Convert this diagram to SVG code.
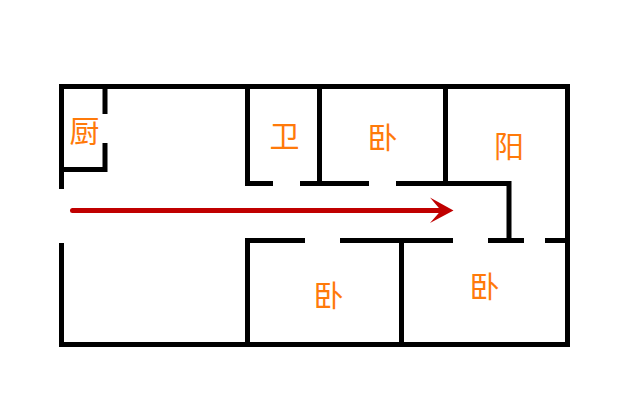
<svg xmlns="http://www.w3.org/2000/svg" width="640" height="420" viewBox="0 0 640 420">
<style>
.w{fill:none;stroke:#000;stroke-width:5;stroke-linecap:butt;stroke-linejoin:miter}
.t{font-family:"Noto Sans CJK SC","Noto Sans",sans-serif;font-size:30px;font-weight:400;fill:#ff7a0a;text-anchor:middle}
</style>
<rect width="640" height="420" fill="#fff"/>
<g id="walls" class="w">
<path d="M61.500 189V86.500H567.500V344.500H61.500V243"/>
<path d="M105 86.500V114M105 143V169.500H61.500"/>
<path d="M247.500 86.500V183.500H273M300 183.500H369M396 183.500H511.500M509 183.500V240.500"/>
<path d="M319.500 86.500V183.500M445.500 86.500V183.500"/>
<path d="M305 240.500H245M247.500 238V344.500"/>
<path d="M340 240.500H453M401.500 240.500V344.500M488 240.500H524M545 240.500H565"/>
</g>
<g id="route">
<path d="M72.500 210.500H445" fill="none" stroke="#c00000" stroke-width="5" stroke-linecap="round"/>
<path d="M430 197.500L453.500 210.500L430 223L441 210.500Z" fill="#c00000"/>
</g>
<g id="labels">
<text class="t" x="84.500" y="142">厨</text>
<text class="t" x="284.500" y="147">卫</text>
<text class="t" x="382.500" y="148">卧</text>
<text class="t" x="509" y="157">阳</text>
<text class="t" x="328.500" y="306">卧</text>
<text class="t" x="484.500" y="297">卧</text>
</g>
</svg>
